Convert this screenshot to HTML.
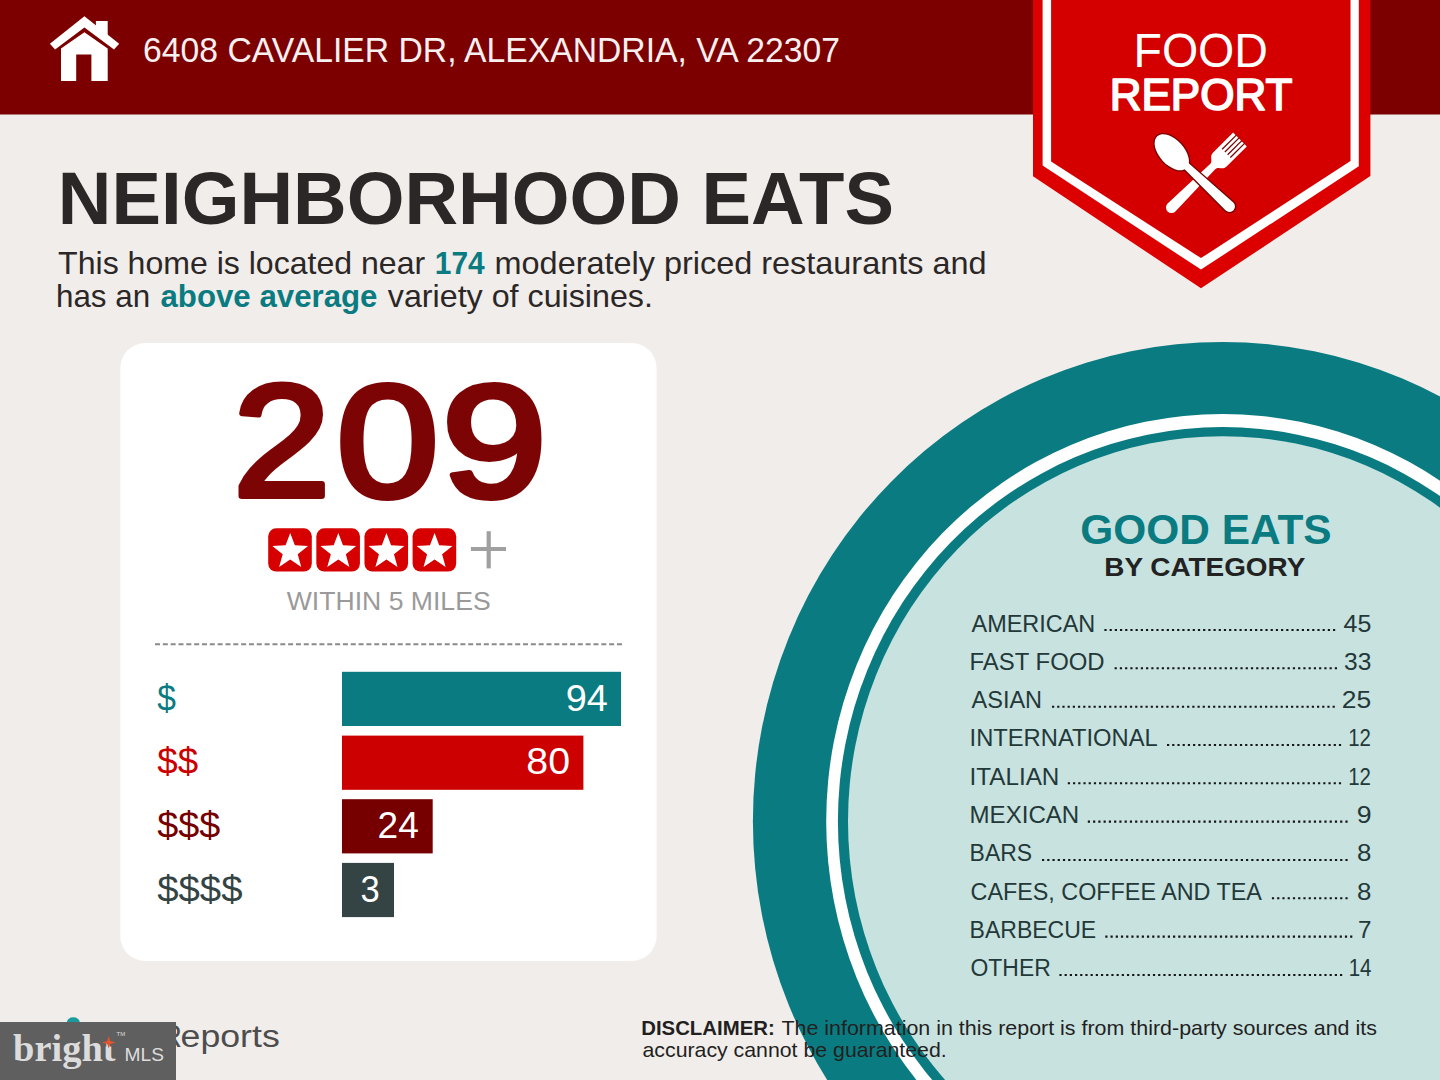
<!DOCTYPE html>
<html><head><meta charset="utf-8">
<style>
*{margin:0;padding:0;box-sizing:border-box}
html,body{width:1440px;height:1080px;overflow:hidden;background:#f1edea}
svg{position:absolute;left:0;top:0;display:block}
text{font-family:"Liberation Sans",sans-serif;white-space:pre}
.serif{font-family:"Liberation Serif",serif}
</style></head><body>
<svg width="1440" height="1080" viewBox="0 0 1440 1080">
  <rect x="0" y="0" width="1440" height="1080" fill="#f1edea"/>
  <!-- header -->
  <rect x="0" y="0" width="1440" height="114.5" fill="#7c0000"/>
  <!-- plate / circle -->
  <ellipse cx="1222.6" cy="821.3" rx="469.7" ry="479.3" fill="#0a7b81"/>
  <ellipse cx="1222.6" cy="821.3" rx="396.4" ry="407.3" fill="#ffffff"/>
  <ellipse cx="1222.6" cy="821.3" rx="384.7" ry="394.2" fill="#0a7b81"/>
  <ellipse cx="1222.6" cy="821.3" rx="374.6" ry="385.1" fill="#c8e2e0"/>
  <!-- badge -->
  <polygon points="1033,0 1370.4,0 1370.4,176 1201,288.3 1033,176.3" fill="#dc0000"/>
  <polygon points="1042.6,0 1358.8,0 1358.8,166.2 1201,269.6 1042.6,165.6" fill="#ffffff"/>
  <polygon points="1051.1,0 1350.5,0 1350.5,161.1 1201,258.1 1051.1,161.5" fill="#d40000"/>
  <!-- fork -->
  <g transform="translate(1171.5,207.5) rotate(-44.8)">
    <path d="M0,-5.5 L58,-3.6 C62.5,-3.6 62.5,-9.7 68,-9.7 L96.5,-9.7 L96.5,9.7 L68,9.7 C62.5,9.7 62.5,3.6 58,3.6 L0,5.5 A5.5,5.5 0 0 1 0,-5.5 Z" fill="#ffffff"/>
    <g fill="#7a0000">
      <rect x="77" y="-6.3" width="20" height="1.25"/>
      <rect x="77" y="-2.4" width="20" height="1.25"/>
      <rect x="77" y="1.5" width="20" height="1.25"/>
      <rect x="77" y="5.4" width="20" height="1.25"/>
    </g>
  </g>
  <!-- spoon -->
  <g stroke="#7a0000" stroke-width="2.6" fill="none">
    <path transform="translate(1229.5,206.5) rotate(-136.8)" d="M0,-5.5 L62,-3.5 L62,3.5 L0,5.5 A5.5,5.5 0 0 1 0,-5.5 Z"/>
    <ellipse cx="1171.8" cy="152.3" rx="21.6" ry="12.4" transform="rotate(47.8 1171.8 152.3)"/>
  </g>
  <g fill="#ffffff">
    <path transform="translate(1229.5,206.5) rotate(-136.8)" d="M0,-5.5 L62,-3.5 L62,3.5 L0,5.5 A5.5,5.5 0 0 1 0,-5.5 Z"/>
    <ellipse cx="1171.8" cy="152.3" rx="21.6" ry="12.4" transform="rotate(47.8 1171.8 152.3)"/>
  </g>
  <!-- house -->
  <g fill="#ffffff">
    <path d="M84.4,16.3 L119.2,43.7 L114,49.6 L84.4,27.4 L55.1,49.6 L49.9,43.7 Z"/>
    <path d="M95.9,21.1 L107.7,21.1 L107.7,35.5 L95.9,26.5 Z"/>
    <path d="M84.4,32.2 L107.7,48.5 L107.7,81.1 L91.4,81.1 L91.4,54.4 L76.2,54.4 L76.2,81.1 L61,81.1 L61,48.5 Z"/>
  </g>
  <!-- card -->
  <rect x="120.3" y="343" width="536.3" height="618" rx="25" ry="25" fill="#ffffff"/>
  <!-- stars -->
  <g fill="#d60000">
    <rect x="268.20" y="528.3" width="43.6" height="43.2" rx="8"/>
    <rect x="316.33" y="528.3" width="43.6" height="43.2" rx="8"/>
    <rect x="364.46" y="528.3" width="43.6" height="43.2" rx="8"/>
    <rect x="412.59" y="528.3" width="43.6" height="43.2" rx="8"/>
  </g>
  <g fill="#ffffff">
    <path d="M290.20,532.90 L294.84,545.31 L308.08,545.89 L297.71,554.14 L301.25,566.91 L290.20,559.60 L279.15,566.91 L282.69,554.14 L272.32,545.89 L285.56,545.31Z"/>
    <path d="M338.33,532.90 L342.97,545.31 L356.21,545.89 L345.84,554.14 L349.38,566.91 L338.33,559.60 L327.28,566.91 L330.82,554.14 L320.45,545.89 L333.69,545.31Z"/>
    <path d="M386.46,532.90 L391.10,545.31 L404.34,545.89 L393.97,554.14 L397.51,566.91 L386.46,559.60 L375.41,566.91 L378.95,554.14 L368.58,545.89 L381.82,545.31Z"/>
    <path d="M434.59,532.90 L439.23,545.31 L452.47,545.89 L442.10,554.14 L445.64,566.91 L434.59,559.60 L423.54,566.91 L427.08,554.14 L416.71,545.89 L429.95,545.31Z"/>
  </g>
  <!-- plus -->
  <g fill="#a0a0a0">
    <rect x="470.9" y="547" width="35.1" height="4"/>
    <rect x="486.6" y="531.2" width="4.2" height="37.2"/>
  </g>
  <!-- dashed line -->
  <line x1="155" y1="644.2" x2="622" y2="644.2" stroke="#8a8a8a" stroke-width="2" stroke-dasharray="5 2.83"/>
  <!-- bars -->
  <rect x="342" y="671.8" width="279" height="54.2" fill="#0a7b81"/>
  <rect x="342" y="735.6" width="241.4" height="54.2" fill="#cc0000"/>
  <rect x="342" y="799.2" width="90.7" height="54.2" fill="#760000"/>
  <rect x="342" y="862.9" width="52" height="54.2" fill="#344444"/>
<text id="reports" x="180.55" y="1046.90" font-size="31" font-weight="400" fill="#4d4d4d" textLength="99.23" lengthAdjust="spacingAndGlyphs">eports</text>
<text id="reportsR" x="161.16" y="1046.90" font-size="31" font-weight="400" fill="#4d4d4d" textLength="20.62" lengthAdjust="spacingAndGlyphs">R</text>
  <!-- footer logo -->
  <ellipse cx="73.3" cy="1022.2" rx="6.4" ry="5" fill="#1a9c9e"/>
  <rect x="0" y="1022" width="176" height="58" fill="#5f5f5f"/>
<text class="serif" id="bright" x="13.10" y="1060.60" font-size="37" font-weight="700" fill="#dcdcdc" textLength="102.50" lengthAdjust="spacingAndGlyphs">bright</text>
<text id="mls" x="124.55" y="1060.60" font-size="18.3" font-weight="400" fill="#dedede" textLength="39.40" lengthAdjust="spacingAndGlyphs">MLS</text>
<rect x="103" y="1030" width="14" height="16.5" fill="#5f5f5f"/><rect x="106.3" y="1043" width="3.7" height="4" fill="#dcdcdc"/>
<path d="M108.75,1036 L110.3,1041 L115.6,1042.5 L110.3,1044 L108.75,1048.5 L107.2,1044 L102.2,1042.5 L107.2,1041 Z" fill="#e0552e"/>
  <text x="116.5" y="1036" font-size="6" fill="#dddddd">TM</text>
<text id="addr" x="143.06" y="62.20" font-size="35.5" font-weight="400" fill="#f8f0f0" textLength="696.89" lengthAdjust="spacingAndGlyphs">6408 CAVALIER DR, ALEXANDRIA, VA 22307</text>
<text id="title" x="57.88" y="223.90" font-size="73.9" font-weight="700" fill="#2b2726" textLength="836.12" lengthAdjust="spacingAndGlyphs">NEIGHBORHOOD EATS</text>
<text id="b1a" x="58.10" y="274.30" font-size="30.7" font-weight="400" fill="#2b2726" textLength="367.13" lengthAdjust="spacingAndGlyphs">This home is located near</text>
<text id="b1b" x="434.83" y="274.30" font-size="30.7" font-weight="700" fill="#0a7b81" textLength="49.84" lengthAdjust="spacingAndGlyphs">174</text>
<text id="b1c" x="494.59" y="274.30" font-size="30.7" font-weight="400" fill="#2b2726" textLength="491.94" lengthAdjust="spacingAndGlyphs">moderately priced restaurants and</text>
<text id="b2a" x="55.96" y="306.80" font-size="30.7" font-weight="400" fill="#2b2726" textLength="94.13" lengthAdjust="spacingAndGlyphs">has an</text>
<text id="b2b" x="160.50" y="306.80" font-size="30.7" font-weight="700" fill="#0a7b81" textLength="216.97" lengthAdjust="spacingAndGlyphs">above average</text>
<text id="b2c" x="387.80" y="306.80" font-size="30.7" font-weight="400" fill="#2b2726" textLength="265.15" lengthAdjust="spacingAndGlyphs">variety of cuisines.</text>
<text id="food" x="1133.46" y="67.40" font-size="47.5" font-weight="400" fill="#ffffff" textLength="134.52" lengthAdjust="spacingAndGlyphs">FOOD</text>
<text id="report" x="1109.65" y="109.55" font-size="44.0" font-weight="400" fill="#ffffff" stroke="#ffffff" stroke-width="1.7" stroke-linejoin="round" textLength="182.78" lengthAdjust="spacingAndGlyphs">REPORT</text>
<text id="n2" x="232.98" y="495.70" font-size="158.9" font-weight="400" fill="#7d0404" stroke="#7d0404" stroke-width="6.0" stroke-linejoin="round" textLength="97.43" lengthAdjust="spacingAndGlyphs">2</text>
<text id="n0" x="336.46" y="495.70" font-size="158.9" font-weight="400" fill="#7d0404" stroke="#7d0404" stroke-width="6.0" stroke-linejoin="round" textLength="102.13" lengthAdjust="spacingAndGlyphs">0</text>
<text id="n9" x="441.78" y="495.70" font-size="158.9" font-weight="400" fill="#7d0404" stroke="#7d0404" stroke-width="6.0" stroke-linejoin="round" textLength="105.08" lengthAdjust="spacingAndGlyphs">9</text>
<text id="within" x="286.70" y="610.00" font-size="26.2" font-weight="400" fill="#9a9a9a" textLength="203.97" lengthAdjust="spacingAndGlyphs">WITHIN 5 MILES</text>
<text id="d1" x="157.20" y="710.50" font-size="36.5" font-weight="400" fill="#0a7b81" textLength="18.68" lengthAdjust="spacingAndGlyphs">$</text>
<text id="d2" x="157.20" y="774.20" font-size="36.5" font-weight="400" fill="#cc0000" textLength="40.90" lengthAdjust="spacingAndGlyphs">$$</text>
<text id="d3" x="157.20" y="837.90" font-size="36.5" font-weight="400" fill="#760000" textLength="63.11" lengthAdjust="spacingAndGlyphs">$$$</text>
<text id="d4" x="157.20" y="901.60" font-size="36.5" font-weight="400" fill="#344444" textLength="85.31" lengthAdjust="spacingAndGlyphs">$$$$</text>
<text id="v1" x="565.79" y="710.50" font-size="37.5" font-weight="400" fill="#ffffff" textLength="42.18" lengthAdjust="spacingAndGlyphs">94</text>
<text id="v2" x="526.35" y="774.20" font-size="37.5" font-weight="400" fill="#ffffff" textLength="43.75" lengthAdjust="spacingAndGlyphs">80</text>
<text id="v3" x="377.61" y="837.90" font-size="37.5" font-weight="400" fill="#ffffff" textLength="41.23" lengthAdjust="spacingAndGlyphs">24</text>
<text id="v4" x="360.58" y="901.60" font-size="37.5" font-weight="400" fill="#ffffff" textLength="19.21" lengthAdjust="spacingAndGlyphs">3</text>
<text id="ge" x="1080.30" y="544.40" font-size="42.3" font-weight="700" fill="#0a7b81" textLength="251.32" lengthAdjust="spacingAndGlyphs">GOOD EATS</text>
<text id="bc" x="1104.25" y="575.60" font-size="26.5" font-weight="700" fill="#222222" textLength="201.01" lengthAdjust="spacingAndGlyphs">BY CATEGORY</text>
<text id="dis1a" x="641.19" y="1035.30" font-size="20.2" font-weight="700" fill="#231f1e" textLength="133.55" lengthAdjust="spacingAndGlyphs">DISCLAIMER:</text>
<text id="dis1b" x="781.40" y="1035.30" font-size="20.2" font-weight="400" fill="#231f1e" textLength="595.50" lengthAdjust="spacingAndGlyphs">The information in this report is from third-party sources and its</text>
<text id="dis2" x="642.50" y="1056.50" font-size="20.2" font-weight="400" fill="#231f1e" textLength="304.20" lengthAdjust="spacingAndGlyphs">accuracy cannot be guaranteed.</text>
<text id="L0" x="971.50" y="631.50" font-size="24.3" font-weight="400" fill="#233838" textLength="123.69" lengthAdjust="spacingAndGlyphs">AMERICAN</text>
<text id="L1" x="969.54" y="669.83" font-size="24.3" font-weight="400" fill="#233838" textLength="135.10" lengthAdjust="spacingAndGlyphs">FAST FOOD</text>
<text id="L2" x="971.50" y="708.16" font-size="24.3" font-weight="400" fill="#233838" textLength="70.60" lengthAdjust="spacingAndGlyphs">ASIAN</text>
<text id="L3" x="969.55" y="746.49" font-size="24.3" font-weight="400" fill="#233838" textLength="188.15" lengthAdjust="spacingAndGlyphs">INTERNATIONAL</text>
<text id="L4" x="969.50" y="784.82" font-size="24.3" font-weight="400" fill="#233838" textLength="89.84" lengthAdjust="spacingAndGlyphs">ITALIAN</text>
<text id="L5" x="969.52" y="823.15" font-size="24.3" font-weight="400" fill="#233838" textLength="109.71" lengthAdjust="spacingAndGlyphs">MEXICAN</text>
<text id="L6" x="969.61" y="861.48" font-size="24.3" font-weight="400" fill="#233838" textLength="62.48" lengthAdjust="spacingAndGlyphs">BARS</text>
<text id="L7" x="970.54" y="899.81" font-size="24.3" font-weight="400" fill="#233838" textLength="291.40" lengthAdjust="spacingAndGlyphs">CAFES, COFFEE AND TEA</text>
<text id="L8" x="969.61" y="938.14" font-size="24.3" font-weight="400" fill="#233838" textLength="126.59" lengthAdjust="spacingAndGlyphs">BARBECUE</text>
<text id="L9" x="970.56" y="976.47" font-size="24.3" font-weight="400" fill="#233838" textLength="80.16" lengthAdjust="spacingAndGlyphs">OTHER</text>
<text id="N0" x="1343.50" y="631.50" font-size="23.9" font-weight="400" fill="#233838" textLength="27.80" lengthAdjust="spacingAndGlyphs">45</text>
<text id="N1" x="1344.00" y="669.83" font-size="23.9" font-weight="400" fill="#233838" textLength="27.29" lengthAdjust="spacingAndGlyphs">33</text>
<text id="N2" x="1341.89" y="708.16" font-size="23.9" font-weight="400" fill="#233838" textLength="29.42" lengthAdjust="spacingAndGlyphs">25</text>
<text id="N3" x="1348.15" y="746.49" font-size="23.9" font-weight="400" fill="#233838" textLength="22.70" lengthAdjust="spacingAndGlyphs">12</text>
<text id="N4" x="1348.15" y="784.82" font-size="23.9" font-weight="400" fill="#233838" textLength="22.70" lengthAdjust="spacingAndGlyphs">12</text>
<text id="N5" x="1356.68" y="823.15" font-size="23.9" font-weight="400" fill="#233838" textLength="14.84" lengthAdjust="spacingAndGlyphs">9</text>
<text id="N6" x="1357.12" y="861.48" font-size="23.9" font-weight="400" fill="#233838" textLength="14.39" lengthAdjust="spacingAndGlyphs">8</text>
<text id="N7" x="1357.12" y="899.81" font-size="23.9" font-weight="400" fill="#233838" textLength="14.39" lengthAdjust="spacingAndGlyphs">8</text>
<text id="N8" x="1357.98" y="938.14" font-size="23.9" font-weight="400" fill="#233838" textLength="13.51" lengthAdjust="spacingAndGlyphs">7</text>
<text id="N9" x="1348.64" y="976.47" font-size="23.9" font-weight="400" fill="#233838" textLength="22.80" lengthAdjust="spacingAndGlyphs">14</text>
<line x1="1104.4" y1="630.0" x2="1335.70" y2="630.0" stroke="#151515" stroke-width="2.1" stroke-dasharray="2.2 2.995"/>
<line x1="1114.6" y1="668.3" x2="1337.50" y2="668.3" stroke="#151515" stroke-width="2.1" stroke-dasharray="2.2 3.043"/>
<line x1="1052.0" y1="706.7" x2="1335.30" y2="706.7" stroke="#151515" stroke-width="2.1" stroke-dasharray="2.2 2.996"/>
<line x1="1167.0" y1="745.0" x2="1341.60" y2="745.0" stroke="#151515" stroke-width="2.1" stroke-dasharray="2.2 3.009"/>
<line x1="1067.8" y1="783.3" x2="1341.60" y2="783.3" stroke="#151515" stroke-width="2.1" stroke-dasharray="2.2 3.013"/>
<line x1="1087.8" y1="821.6" x2="1348.10" y2="821.6" stroke="#151515" stroke-width="2.1" stroke-dasharray="2.2 3.057"/>
<line x1="1042.0" y1="860.0" x2="1348.10" y2="860.0" stroke="#151515" stroke-width="2.1" stroke-dasharray="2.2 3.031"/>
<line x1="1271.9" y1="898.3" x2="1348.10" y2="898.3" stroke="#151515" stroke-width="2.1" stroke-dasharray="2.2 3.050"/>
<line x1="1105.3" y1="936.6" x2="1352.80" y2="936.6" stroke="#151515" stroke-width="2.1" stroke-dasharray="2.2 3.009"/>
<line x1="1059.4" y1="975.0" x2="1342.70" y2="975.0" stroke="#151515" stroke-width="2.1" stroke-dasharray="2.2 2.996"/>
</svg>
</body></html>
